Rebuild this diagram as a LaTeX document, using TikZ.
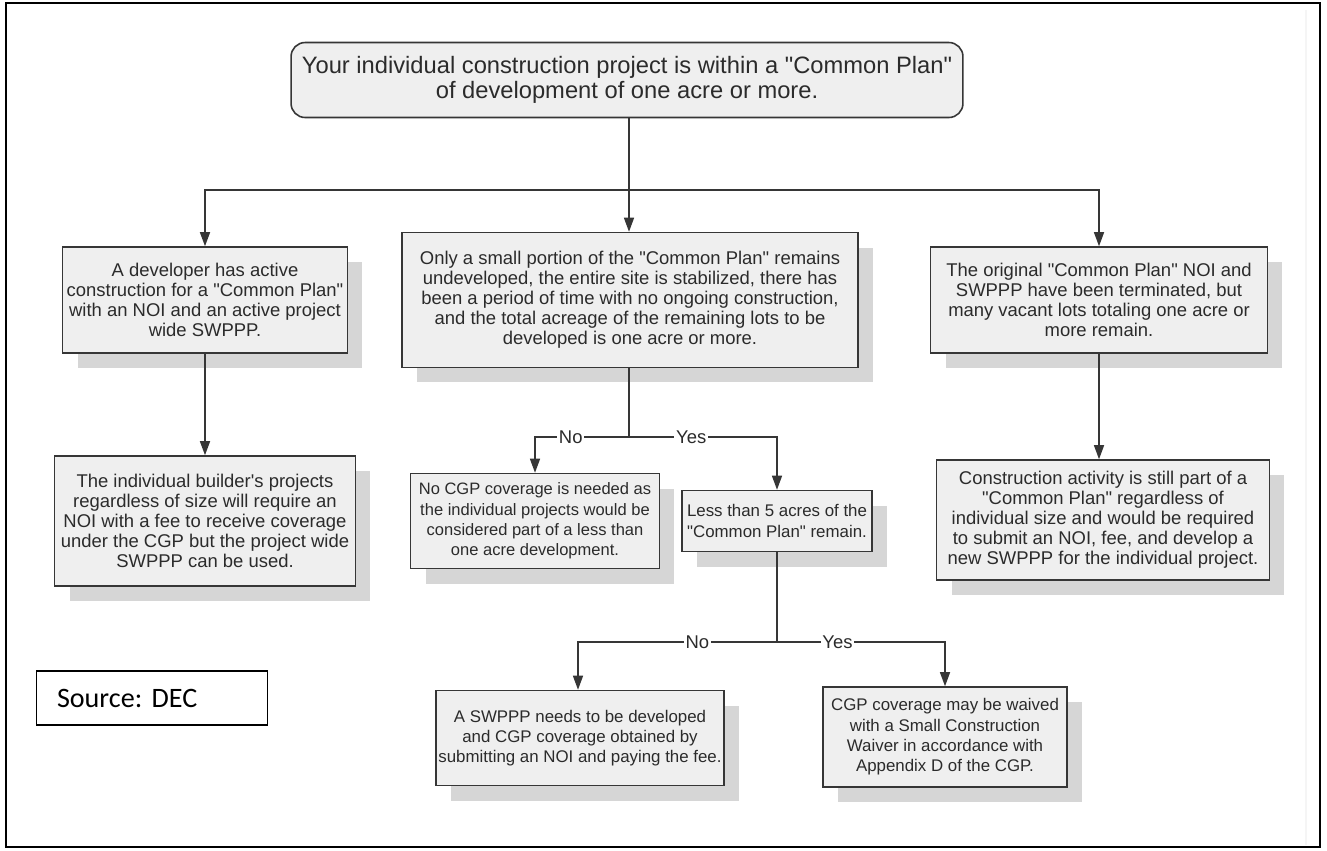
\documentclass[tikz,border=0pt]{standalone}
\usepackage{fontspec}
\setmainfont{Liberation Sans}[Ligatures=TeXOff]
\newfontfamily\srcfont{Carlito}
\usepackage{tikz}
\usetikzlibrary{
    arrows.meta,
    positioning,
    calc,
    shadows
}
\definecolor{boxFill}{HTML}{EFEFEF}
\definecolor{boxLine}{HTML}{363636}
\definecolor{shadeGray}{HTML}{D6D6D6}
\definecolor{inkGray}{HTML}{2B2B2B}
\tikzset{
  box/.style    = {draw=boxLine, fill=boxFill, line width=0.9pt, align=center,
                   text=inkGray, inner sep=1.5pt,
                   font=\fontsize{10.5}{11.4}\selectfont,
                   drop shadow={shadow xshift=0.3cm, shadow yshift=-0.3cm,
                                fill=shadeGray, opacity=1}},
  sbox/.style   = {box, font=\fontsize{9.6}{11.6}\selectfont},
  topbox/.style = {draw=boxLine, fill=boxFill, line width=0.9pt, rounded corners=8pt,
                   align=center, text=inkGray,
                   font=\fontsize{13.5}{14}\selectfont},
  srcbox/.style = {draw, line width=1pt, align=left, text width=3.8cm,
                   inner xsep=0.41cm, minimum height=1.08cm,
                   font=\srcfont\fontsize{16}{18}\selectfont\frenchspacing},
  arr/.style    = {-{Triangle[length=0.28cm, width=0.2cm]}, line width=0.8pt, boxLine},
  lnk/.style    = {line width=0.8pt, boxLine},
  lbl/.style    = {fill=white, inner sep=1pt, text=inkGray,
                   font=\fontsize{10.5}{11.4}\selectfont}
}

\begin{document}
\begin{tikzpicture}[x=0.02cm, y=-0.02cm]
  \useasboundingbox (0,0) rectangle (1327,850);
  \draw[line width=1.4pt] (6,3) rectangle (1320,847);
  \draw[gray!8, line width=1.5pt] (1306,10) -- (1306,845);

  % question at the top
  \node[topbox, minimum width=13.44cm, minimum height=1.5cm] (top) at (627,80)
       {Your individual construction project is within a "Common Plan"\\
        of development of one acre or more.};

  % three cases
  \node[box, minimum width=5.7cm, minimum height=2.12cm] (dev) at (205,300)
       {A developer has active\\ construction for a "Common Plan"\\
        with an NOI and an active project\\ wide SWPPP.};
  \node[box, minimum width=9.12cm, minimum height=2.7cm] (mid) at (630,300)
       {Only a small portion of the "Common Plan" remains\\
        undeveloped, the entire site is stabilized, there has\\
        been a period of time with no ongoing construction,\\
        and the total acreage of the remaining lots to be\\
        developed is one acre or more.};
  \node[box, minimum width=6.74cm, minimum height=2.12cm] (term) at (1099,300)
       {The original "Common Plan" NOI and\\ SWPPP have been terminated, but\\
        many vacant lots totaling one acre or\\ more remain.};

  % outcomes
  \node[box, minimum width=6.02cm, minimum height=2.6cm] (builder) at (205,521)
       {The individual builder's projects\\ regardless of size will require an\\
        NOI with a fee to receive coverage\\ under the CGP but the project wide\\
        SWPPP can be used.};
  \node[sbox, minimum width=4.98cm, minimum height=1.9cm,
        font=\fontsize{9.4}{11.6}\selectfont] (nocgp) at (535,521)
       {No CGP coverage is needed as\\ the individual projects would be\\
        considered part of a less than\\ one acre development.};
  \node[sbox, minimum width=3.8cm, minimum height=1.22cm] (less) at (777,521)
       {Less than 5 acres of the\\ "Common Plan" remain.};
  \node[box, minimum width=6.66cm, minimum height=2.4cm] (still) at (1103,520)
       {Construction activity is still part of a\\ "Common Plan" regardless of\\
        individual size and would be required\\ to submit an NOI, fee, and develop a\\
        new SWPPP for the individual project.};
  \node[sbox, minimum width=5.72cm, minimum height=1.9cm] (swppp) at (580,738)
       {A SWPPP needs to be developed\\ and CGP coverage obtained by\\
        submitting an NOI and paying the fee.};
  \node[sbox, minimum width=4.88cm, minimum height=2.0cm] (waive) at (945,737)
       {CGP coverage may be waived\\ with a Small Construction\\
        Waiver in accordance with\\ Appendix D of the CGP.};

  \node[srcbox] (src) at (152,698) {Source: DEC};

  % connectors
  \coordinate (j0) at (629,190);
  \coordinate (j1) at (629,437);
  \coordinate (j2) at (777,642);
  \draw[lnk] (top.south -| j0) -- (j0);
  \draw[arr] (j0) -| (dev.north);
  \draw[arr] (j0) -- (mid.north -| j0);
  \draw[arr] (j0) -| (term.north);
  \draw[arr] (dev) -- (builder);
  \draw[arr] (term.south) -- (term.south |- still.north);

  \draw[lnk] (mid.south -| j1) -- (j1);
  \draw[arr] (j1) -| node[lbl, pos=0.31] {No} (nocgp.north);
  \draw[arr] (j1) -| node[lbl, pos=0.21] {Yes} (less.north);

  \draw[lnk] (less.south) -- (j2);
  \draw[arr] (j2) -| node[lbl, pos=0.2] {No} (swppp.north -| 578,0);
  \draw[arr] (j2) -| node[lbl, pos=0.18] {Yes} (waive.north);
\end{tikzpicture}
\end{document}
